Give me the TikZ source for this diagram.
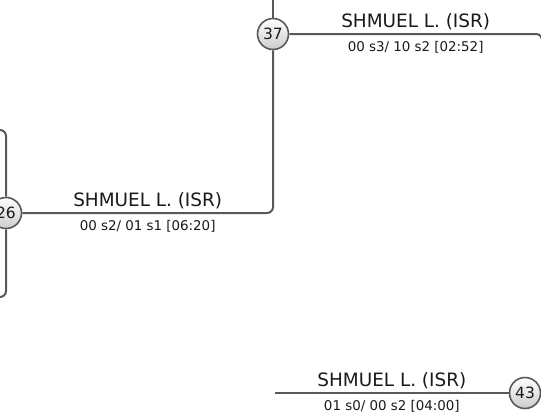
\documentclass[tikz,border=0pt]{standalone}
\usepackage{fontspec}
\setmainfont{DejaVu Sans}
\usetikzlibrary{backgrounds}
\definecolor{wire}{HTML}{595959}
\tikzset{
  seed/.style={circle, draw=wire, line width=1.6pt, top color=white, bottom color=black!20,
    minimum size=31pt, inner sep=0pt, text=black!90, font=\fontsize{15.5}{16}\selectfont},
  wirepath/.style={draw=wire, line width=2pt, rounded corners=6pt},
  player/.style={anchor=base, yshift=7pt, text=black!90, font=\fontsize{18.4}{20}\selectfont},
  score/.style={anchor=base, yshift=-17pt, text=black!90, font=\fontsize{13.4}{14}\selectfont},
}

\begin{document}
\begin{tikzpicture}[x=1pt, y=-1pt]
\useasboundingbox (0,0) rectangle (541,416);
\node[seed] at(273,34)(m37){37};
\node[seed] at(6,213)(m26){26};
\node[seed] at(525,393)(m43){43};
\coordinate (t37) at (273,-4);
\coordinate (r37) at (542,34);
\coordinate (u26) at (-4,130);
\coordinate (d26) at (-4,297);
\coordinate (l43) at (275,393);
\begin{scope}[on background layer]
\path[wirepath] (t37) -- (m37);
\path[wirepath] (m26) -- node[player]{SHMUEL L. (ISR)} node[score]{00 s2/ 01 s1 [06:20]}
    (m37 |- m26) -- (m37);
\path[wirepath] (m37) -- node[player]{SHMUEL L. (ISR)} node[score]{00 s3/ 10 s2 [02:52]}
    (r37) -- (r37 |- m43);
\path[wirepath] (m26) -- (m26 |- u26) -- (u26);
\path[wirepath] (m26) -- (m26 |- d26) -- (d26);
\path[wirepath] (l43) -- node[player]{SHMUEL L. (ISR)} node[score]{01 s0/ 00 s2 [04:00]} (m43);
\end{scope}
\end{tikzpicture}
\end{document}
